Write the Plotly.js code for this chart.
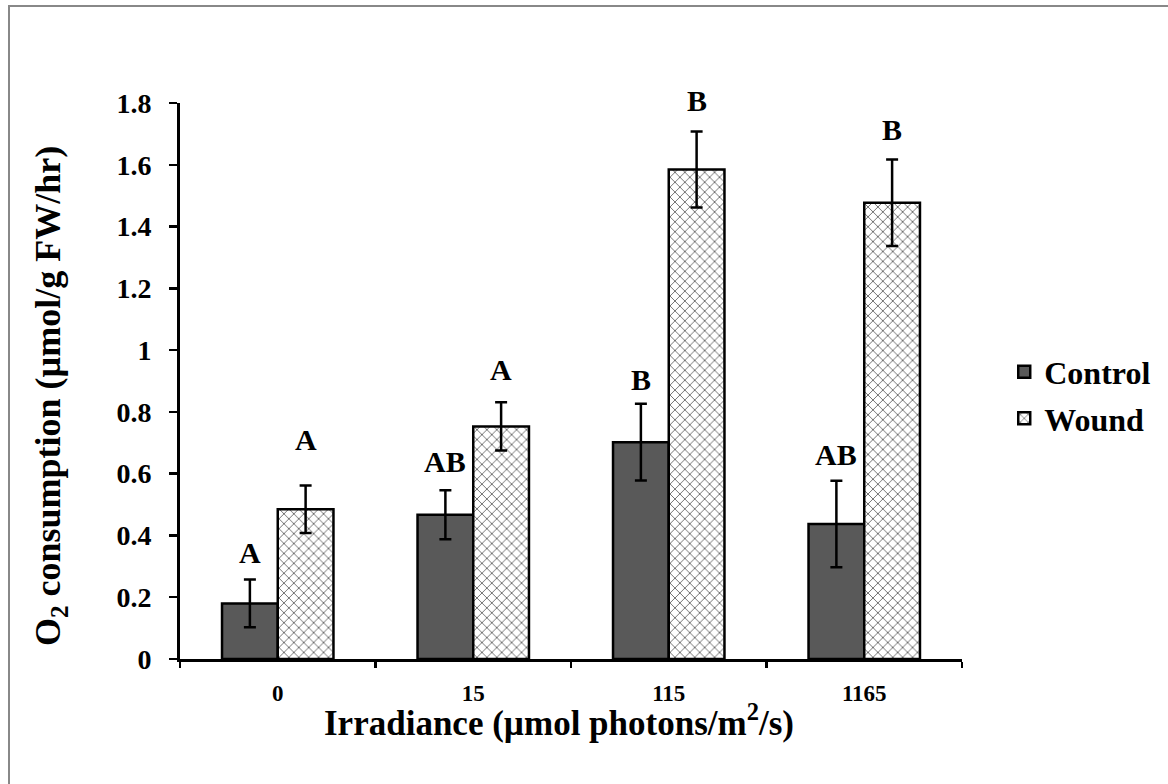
<!DOCTYPE html>
<html>
<head>
<meta charset="utf-8">
<script src="https://cdn.plot.ly/plotly-3.0.1.min.js"></script>
<style>
  html, body { margin: 0; padding: 0; background: #fff; }
  #chart { width: 1168px; height: 784px; position: relative; }
  #frame { position: absolute; left: 8px; top: 5px; width: 1160px; height: 779px;
           border-top: 2px solid #888; border-left: 2px solid #888; pointer-events: none; box-sizing: border-box; }
</style>
</head>
<body>
<div id="chart"></div>
<div id="frame"></div>
<script>
// ---- data ----
const categories = ["0", "15", "115", "1165"];
const controlValues = [0.18, 0.467, 0.702, 0.437];
const controlErrors = [0.077, 0.079, 0.124, 0.140];
const woundValues = [0.485, 0.753, 1.585, 1.477];
const woundErrors = [0.077, 0.078, 0.123, 0.140];
const controlLetters = ["A", "AB", "B", "AB"];
const woundLetters = ["A", "A", "B", "B"];
const controlLetterY = [0.345, 0.64, 0.904, 0.661];
const woundLetterY = [0.71, 0.937, 1.807, 1.715];
const yTicks = [0, 0.2, 0.4, 0.6, 0.8, 1, 1.2, 1.4, 1.6, 1.8];
const yMax = 1.8;
const xTitle = "<b>Irradiance (µmol photons/m<sup>2</sup>/s)</b>";
const yTitle = "<b>O<sub>2</sub> consumption (µmol/g FW/hr)</b>";

const FONT = "Liberation Serif, Times New Roman, serif";

const control = {
  type: "bar", name: "Control", x: categories, y: controlValues, legendgroup: "c",
  marker: { color: "#595959", line: { color: "#000", width: 2.5 } },
  error_y: { type: "data", array: controlErrors, visible: true, color: "#000", thickness: 2.5, width: 6 }
};
const wound = {
  type: "bar", name: "Wound", x: categories, y: woundValues, legendgroup: "w",
  marker: { color: "#fff", line: { color: "#000", width: 2.5 },
            pattern: { shape: "x", fgcolor: "#000", bgcolor: "#fff", size: 7, solidity: 0.15 } },
  error_y: { type: "data", array: woundErrors, visible: true, color: "#000", thickness: 2.5, width: 6 }
};

const annotations = [];
categories.forEach((c, i) => {
  annotations.push({ x: i, y: controlLetterY[i] / yMax, text: "<b>" + controlLetters[i] + "</b>", showarrow: false,
    xref: "x", yref: "paper", xanchor: "center", yanchor: "middle", xshift: -28,
    font: { family: FONT, size: 30, color: "#000" } });
  annotations.push({ x: i, y: woundLetterY[i] / yMax, text: "<b>" + woundLetters[i] + "</b>", showarrow: false,
    xref: "x", yref: "paper", xanchor: "center", yanchor: "middle", xshift: 28,
    font: { family: FONT, size: 30, color: "#000" } });
});
// axis titles
annotations.push({ text: xTitle, xref: "paper", yref: "paper", x: 0.4847, y: -0.111,
  xanchor: "center", yanchor: "middle", showarrow: false, font: { family: FONT, size: 35, color: "#000" } });
annotations.push({ text: yTitle, xref: "paper", yref: "paper", x: -0.1662, y: 0.473, textangle: -90,
  xanchor: "center", yanchor: "middle", showarrow: false, font: { family: FONT, size: 36, color: "#000" } });

const layout = {
  width: 1168, height: 784,
  margin: { l: 180, r: 206, t: 103, b: 125 },
  paper_bgcolor: "#fff", plot_bgcolor: "#fff",
  barmode: "group", bargap: 0.43, bargroupgap: 0,
  showlegend: true,
  legend: { x: 1.054, xanchor: "left", y: 0.474, yanchor: "middle",
            font: { family: FONT, size: 32, color: "#000", weight: "bold" },
            itemwidth: 30, tracegroupgap: 2 },
  xaxis: {
    type: "category", showline: true, linecolor: "#000", linewidth: 3,
    ticks: "outside", ticklen: 6, tickwidth: 2.5, tickcolor: "#000",
    tickson: "boundaries", showgrid: false, zeroline: false, tickangle: 0,
    ticklabelstandoff: 11,
    tickfont: { family: FONT, size: 23, color: "#000", weight: "bold" }
  },
  yaxis: {
    range: [0, yMax], tickvals: yTicks, ticktext: yTicks.map(String),
    showline: true, linecolor: "#000", linewidth: 3,
    ticks: "outside", ticklen: 8, tickwidth: 2.5, tickcolor: "#000",
    ticklabelstandoff: 12,
    showgrid: false, zeroline: false,
    tickfont: { family: FONT, size: 28, color: "#000", weight: "bold" }
  },
  annotations: annotations
};

Plotly.newPlot("chart", [control, wound], layout, { displayModeBar: false, staticPlot: true });
</script>
</body>
</html>
